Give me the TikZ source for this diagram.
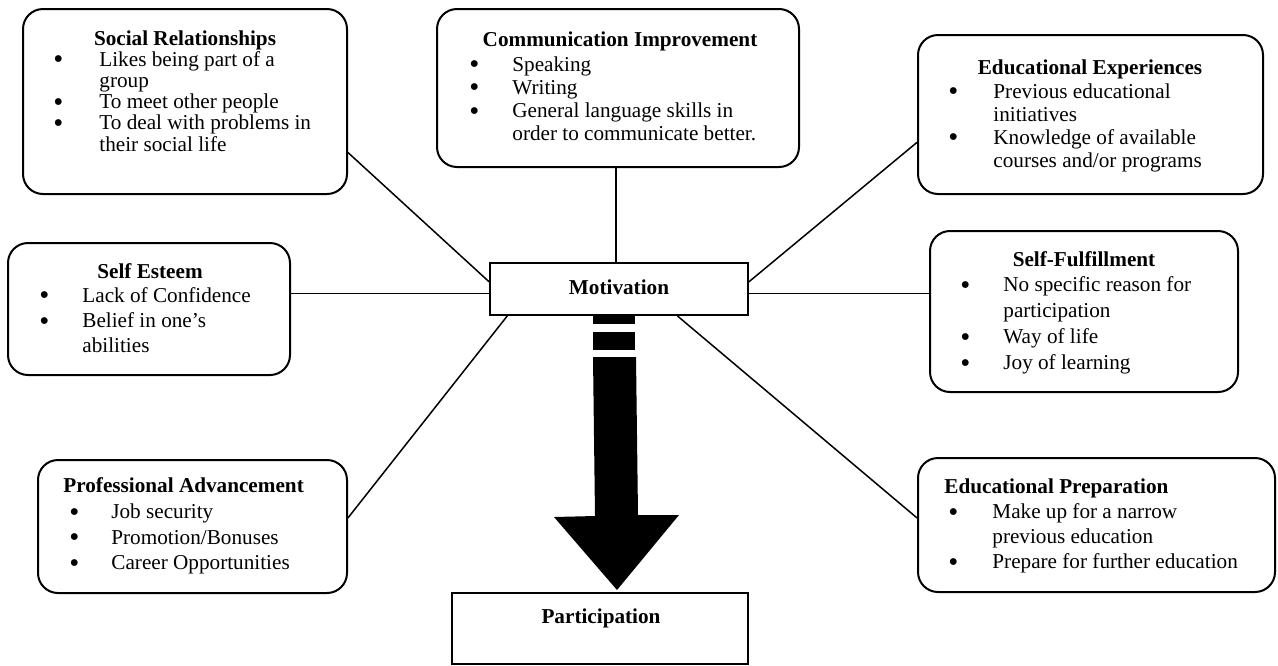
\documentclass[tikz,border=0pt]{standalone}
\usepackage{fontspec}
\setmainfont{Liberation Serif}
\usetikzlibrary{fit,calc}
\newlength\bind
\newcommand\bigbullet{\raisebox{-1.3pt}{\fontsize{14.3pt}{14.3pt}\selectfont\textbullet}}
\newcommand\bitem[1]{\makebox[\bind][l]{\bigbullet}#1}
\newcommand\bcont[1]{\hspace*{\bind}#1}
\newcommand\blist[3]{\parbox[t]{400pt}{\fontsize{10.6pt}{#1}\selectfont\setlength\bind{#2}\raggedright #3}}
\tikzset{
  box/.style={draw, line width=1pt, rounded corners=10pt, inner sep=0pt},
  sqbox/.style={draw, line width=1pt, inner sep=0pt},
  conn/.style={line width=0.75pt},
  ttl/.style={font=\fontsize{10.6pt}{12pt}\selectfont\bfseries, inner sep=0pt, anchor=base},
  lst/.style={inner sep=0pt, anchor=base west}
}
\begin{document}
\begin{tikzpicture}[x=0.5pt,y=-0.5pt]
\useasboundingbox (0,0) rectangle (1278,665);
% boxes
\node[box, fit={(23,9) (347,194)}] (sr) {};
\node[box, fit={(437,9) (799,167)}] (cm) {};
\node[box, fit={(918,35) (1263,194)}] (ee) {};
\node[box, fit={(8,243) (290,375)}] (se) {};
\node[sqbox, fit={(490,263) (748,315)}] (mo) {};
\node[box, fit={(930,231) (1238,392)}] (sf) {};
\node[box, fit={(38,460) (347,593)}] (pa) {};
\node[box, fit={(918,458) (1275,592)}] (ep) {};
\node[sqbox, fit={(452,593) (748,664)}] (pt) {};
% titles
\node[ttl] (srT) at (185,45) {Social Relationships};
\node[ttl] (cmT) at (620,46) {Communication Improvement};
\node[ttl] (eeT) at (1090,74) {Educational Experiences};
\node[ttl] (seT) at (150,278) {Self Esteem};
\node[ttl] (sfT) at (1084,266) {Self-Fulfillment};
\node[ttl, anchor=base west] (paT) at (63,492) {Professional Advancement};
\node[ttl, anchor=base west] (epT) at (944,493) {Educational Preparation};
\node[ttl] (moT) at (619,294) {Motivation};
\node[ttl] (ptT) at (601,623) {Participation};
% lists
\node[lst] (srL) at (53,66) {\blist{10.65pt}{23pt}{\bitem{Likes being part of a}\\\bcont{group}\\\bitem{To meet other people}\\\bitem{To deal with problems in}\\\bcont{their social life}}};
\node[lst] (cmL) at (469,71) {\blist{11.6pt}{21.5pt}{\bitem{Speaking}\\\bitem{Writing}\\\bitem{General language skills in}\\\bcont{order to communicate better.}}};
\node[lst] (eeL) at (948,98) {\blist{11.5pt}{22.5pt}{\bitem{Previous educational}\\\bcont{initiatives}\\\bitem{Knowledge of available}\\\bcont{courses and/or programs}}};
\node[lst] (seL) at (39,302.3) {\blist{12.65pt}{21.5pt}{\bitem{Lack of Confidence}\\\bitem{Belief in one’s}\\\bcont{abilities}}};
\node[lst] (sfL) at (960,291.5) {\blist{13pt}{21.5pt}{\bitem{No specific reason for}\\\bcont{participation}\\\bitem{Way of life}\\\bitem{Joy of learning}}};
\node[lst] (paL) at (69,518.5) {\blist{12.85pt}{21pt}{\bitem{Job security}\\\bitem{Promotion/Bonuses}\\\bitem{Career Opportunities}}};
\node[lst] (epL) at (948,518.5) {\blist{12.5pt}{22pt}{\bitem{Make up for a narrow}\\\bcont{previous education}\\\bitem{Prepare for further education}}};
% connectors
\coordinate (seR) at ($(se.north east)!0.386!(se.south east)$);
\coordinate (sfW) at ($(sf.north west)!0.391!(sf.south west)$);
\coordinate (cmB) at ($(cm.south west)!0.494!(cm.south east)$);
\draw[conn] ($(sr.north east)!0.773!(sr.south east)$) -- ($(mo.north west)!0.365!(mo.south west)$);
\draw[conn] (cmB) -- (cmB |- mo.north);
\draw[conn] ($(ee.north west)!0.673!(ee.south west)$) -- ($(mo.north east)!0.365!(mo.south east)$);
\draw[conn] (seR) -- (seR -| mo.west);
\draw[conn] (sfW -| mo.east) -- (sfW);
\draw[conn] ($(mo.south west)!0.07!(mo.south east)$) -- ($(pa.north east)!0.436!(pa.south east)$);
\draw[conn] ($(mo.south west)!0.725!(mo.south east)$) -- ($(ep.north west)!0.448!(ep.south west)$);
% big arrow
\fill[black] (593,315) rectangle (635,324);
\fill[black] (593,332) rectangle (635,350);
\fill[black] (593,357) -- (636,357) -- (638,515) -- (679,515) -- (617,590) -- (554,517) -- (595,516) -- cycle;
\end{tikzpicture}
\end{document}
